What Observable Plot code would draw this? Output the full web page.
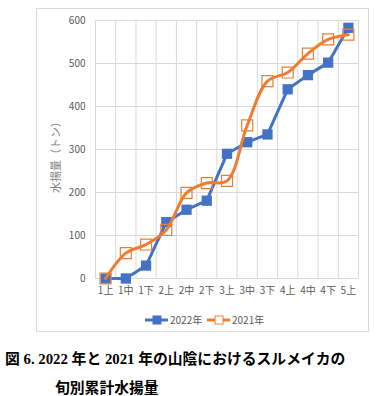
<!DOCTYPE html>
<html><head><meta charset="utf-8">
<script src="https://cdn.jsdelivr.net/npm/d3@7"></script>
<script src="https://cdn.jsdelivr.net/npm/@observablehq/plot@0.6"></script>
<style>
body{margin:0;background:#fff;width:390px;height:396px;position:relative;overflow:hidden;font-family:"Noto Sans CJK JP",sans-serif}
#frame{position:absolute;left:36px;top:8px;width:333px;height:324px;border:1px solid #d9d9d9;box-sizing:border-box}
#chart{position:absolute;left:0;top:0}
#legend{position:absolute;left:0;top:308px}
.cap{position:absolute;font-family:"Liberation Serif","Noto Sans CJK JP",serif;font-weight:bold;font-size:14.8px;color:#000;white-space:nowrap}
</style></head>
<body>
<div id="frame"></div>
<div id="chart"></div>
<svg id="legend" width="390" height="24"></svg>
<div class="cap" style="left:5px;top:347px">図 6. 2022 年と 2021 年の山陰におけるスルメイカの</div>
<div class="cap" style="left:55px;top:376px">旬別累計水揚量</div>
<script>
const categories = ["1上","1中","1下","2上","2中","2下","3上","3中","3下","4上","4中","4下","5上"];
const values2022 = [0,0,30,131,160,181,290,317,335,440,473,502,583];
const values2021 = [0,59,79,113,199,222,227,356,459,479,523,556,567];
const yTicks = [0,100,200,300,400,500,600];
const seriesNames = ["2022年","2021年"];
const colors = ["#4472C4","#ED7D31"];

const d22 = categories.map((c,i)=>({i, c, v: values2022[i]}));
const d21 = categories.map((c,i)=>({i, c, v: values2021[i]}));
const bounds = d3.range(categories.length+1).map(k=>k-0.5);

const chart = Plot.plot({
  width: 390, height: 300,
  marginLeft: 95, marginRight: 32, marginTop: 20, marginBottom: 22,
  style: {fontFamily: '"Noto Sans CJK JP", sans-serif', fontSize: "10px", color: "#595959", background: "transparent"},
  x: {domain: [-0.5, categories.length-0.5], ticks: d3.range(categories.length), tickFormat: i => categories[i], tickSize: 0, tickPadding: 8, label: null},
  y: {domain: [0,600], ticks: yTicks, tickSize: 0, tickPadding: 10, label: null},
  marks: [
    Plot.ruleY(yTicks, {stroke: "#d9d9d9", strokeWidth: 1}),
    Plot.ruleX(bounds, {stroke: "#d9d9d9", strokeWidth: 1}),
    Plot.text(["水揚量（トン）"], {frameAnchor: "left", textAnchor: "middle", dx: -39, dy: 5, rotate: -90, fontSize: 11, fill: "#7f7f7f"}),
    Plot.line(d22, {x: "i", y: "v", stroke: colors[0], strokeWidth: 3}),
    Plot.dot(d22, {x: "i", y: "v", symbol: "square", r: 5.8, fill: colors[0], stroke: "none"}),
    Plot.line(d21, {x: "i", y: "v", stroke: colors[1], strokeWidth: 3, curve: "catmull-rom"}),
    Plot.dot(d21, {x: "i", y: "v", symbol: "square", r: 6.2, fill: "none", stroke: colors[1], strokeWidth: 1.2})
  ]
});
document.getElementById("chart").appendChild(chart);

// legend
const lg = d3.select("#legend");
const items = [{x:145, name: seriesNames[0], col: colors[0], filled: true},{x:207, name: seriesNames[1], col: colors[1], filled: false}];
items.forEach(it=>{
  lg.append("line").attr("x1",it.x).attr("x2",it.x+23).attr("y1",12).attr("y2",12).attr("stroke",it.col).attr("stroke-width",3);
  lg.append("rect").attr("x",it.x+8).attr("y",8).attr("width",8).attr("height",8)
    .attr("fill", it.filled ? it.col : "#fff").attr("stroke", it.col).attr("stroke-width",1);
  lg.append("text").attr("x",it.x+25).attr("y",15.5).attr("fill","#595959").attr("font-size","10px").text(it.name);
});
</script>
</body></html>
